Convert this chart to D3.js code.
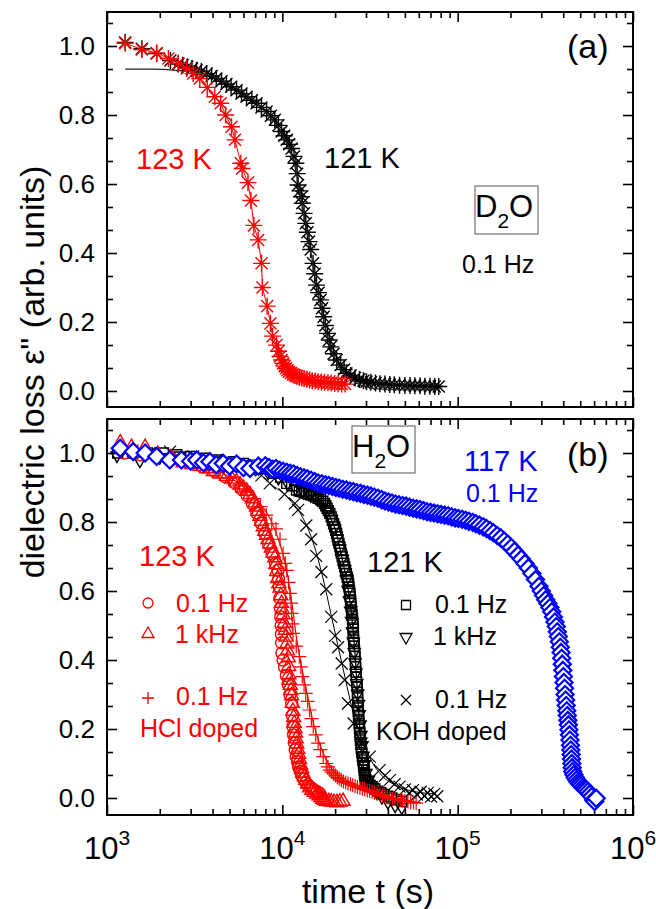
<!DOCTYPE html>
<html>
<head>
<meta charset="utf-8">
<script src="https://cdn.jsdelivr.net/npm/d3@7"></script>
<style>
  body { margin: 0; background: #fff; }
  svg text { font-family: "Liberation Sans", Arial, Helvetica, sans-serif; }
</style>
</head>
<body>
<svg id="chart" width="656" height="909"></svg>
<script>
// ---- data (time in s, normalized loss) ----
// panel (a): D2O, 0.1 Hz
const redA = [[1270,1.008],[1580,0.99],[1920,0.98],[2240,0.964],[2550,0.95],[2850,0.935],[3100,0.92],[3380,0.906],[3730,0.88],[4120,0.853],[4450,0.834],[4750,0.80],[5130,0.766],[5370,0.728],[5800,0.66],[5900,0.645],[6370,0.604],[6620,0.552],[6880,0.48],[7280,0.438],[7610,0.37],[7700,0.30],[8190,0.246],[8560,0.196],[8800,0.159],[9270,0.133],[9500,0.115],[9700,0.10],[9900,0.09],[10100,0.08],[10300,0.072],[10500,0.066],[10700,0.06],[10900,0.056],[11200,0.052],[11500,0.048],[11800,0.045],[12100,0.043],[12500,0.04],[12900,0.038],[13300,0.036],[13800,0.034],[14300,0.032],[14800,0.03],[15400,0.029],[16000,0.027],[16700,0.026],[17400,0.025],[18200,0.024],[19000,0.023],[19900,0.022],[20800,0.021],[21800,0.02],[22800,0.02]];
const blackA = [[1270,1.01],[1580,0.992],[1920,0.978],[2300,0.958],[2550,0.948],[2700,0.944],[2870,0.94],[3050,0.935],[3240,0.93],[3450,0.926],[3700,0.92],[3950,0.913],[4200,0.906],[4500,0.898],[4800,0.89],[5100,0.882],[5480,0.872],[5850,0.862],[6250,0.853],[6700,0.843],[7130,0.834],[7600,0.822],[8130,0.81],[8600,0.798],[9060,0.786],[9500,0.77],[9900,0.752],[10250,0.74],[10600,0.728],[10950,0.715],[11300,0.703],[11650,0.68],[11950,0.66],[12150,0.63],[12300,0.597],[12600,0.58],[12870,0.563],[13000,0.544],[13300,0.515],[13600,0.486],[13900,0.46],[14200,0.433],[14500,0.41],[14970,0.37],[15300,0.34],[15660,0.307],[16100,0.285],[16500,0.264],[16850,0.24],[17200,0.215],[17600,0.19],[18100,0.167],[18500,0.148],[18900,0.128],[19600,0.108],[20400,0.09],[21500,0.075],[22500,0.062],[23200,0.051],[24500,0.045],[26000,0.038],[27500,0.033],[29000,0.03],[30200,0.027],[32000,0.025],[34000,0.023],[36000,0.021],[38500,0.02],[41000,0.019],[43500,0.018],[46600,0.017],[50000,0.016],[53500,0.016],[57000,0.015],[61000,0.015],[65000,0.014],[69500,0.014],[74000,0.013],[78000,0.013]];
const fitA121 = [[1270,0.933],[1800,0.933],[2400,0.93],[3000,0.925],[3600,0.918],[4200,0.908],[4800,0.895],[5500,0.878],[6300,0.858],[7100,0.836],[8000,0.81],[9000,0.78],[10000,0.745],[11000,0.70],[11800,0.65],[12500,0.59],[13200,0.52],[14000,0.45],[14800,0.38],[15600,0.31],[16500,0.25],[17500,0.19],[18500,0.14],[19700,0.10],[21000,0.07],[23000,0.045],[26000,0.025],[30000,0.012],[38000,0.005],[50000,0.003],[78000,0.003]];

// panel (b): H2O
const circ123 = [[1250,1.0],[1550,0.995],[1900,0.99],[2350,0.982],[2900,0.972],[3500,0.96],[4100,0.947],[4700,0.932],[5300,0.915],[5800,0.897],[6300,0.877],[6750,0.853],[7150,0.826],[7550,0.797],[7950,0.767],[8350,0.737],[8750,0.707],[9150,0.68],[9440,0.66],[9520,0.635],[9600,0.612],[9680,0.58],[9750,0.55],[9800,0.525],[9850,0.5],[9880,0.475],[9900,0.45],[9950,0.42],[10100,0.4],[10300,0.38],[10550,0.355],[10800,0.33],[11050,0.3],[11300,0.274],[11400,0.24],[11500,0.207],[11600,0.183],[11700,0.16],[11850,0.14],[12000,0.12],[12200,0.105],[12400,0.09],[12650,0.077],[12900,0.065],[13250,0.055],[13600,0.045],[14000,0.038],[14400,0.032],[14850,0.027],[15300,0.022],[15800,0.018],[16300,0.014]];
const tri123 = [[1190,1.033],[1380,1.02],[1650,1.02],[1950,1.0],[2300,0.99],[2720,0.975],[3050,0.97],[3390,0.965],[3700,0.958],[4040,0.95],[4400,0.943],[4810,0.936],[5150,0.928],[5480,0.92],[5750,0.911],[5990,0.902],[6270,0.893],[6540,0.883],[6760,0.871],[6980,0.859],[7130,0.847],[7280,0.835],[7450,0.82],[7610,0.806],[7780,0.79],[7940,0.777],[8120,0.765],[8290,0.753],[8480,0.74],[8660,0.728],[8860,0.714],[9060,0.70],[9170,0.68],[9270,0.66],[9400,0.64],[9550,0.625],[9700,0.612],[9800,0.59],[9900,0.568],[10000,0.55],[10100,0.535],[10250,0.51],[10400,0.49],[10500,0.47],[10600,0.45],[10700,0.43],[10820,0.41],[10860,0.385],[10900,0.361],[11000,0.345],[11100,0.33],[11200,0.315],[11300,0.30],[11400,0.278],[11500,0.255],[11600,0.237],[11700,0.22],[11800,0.205],[11900,0.192],[12000,0.175],[12100,0.16],[12250,0.145],[12400,0.13],[12550,0.115],[12700,0.1],[12900,0.088],[13100,0.075],[13350,0.065],[13600,0.055],[13950,0.044],[14300,0.033],[14750,0.026],[15200,0.02],[15700,0.015],[16200,0.01],[16600,0.005],[17000,0.0],[17400,-0.003],[17800,-0.006],[18400,-0.007],[19000,-0.008],[19700,-0.009],[20500,-0.01],[21300,-0.008],[22200,-0.006]];
const plusHCl = [[1200,1.01],[1500,1.005],[1900,0.995],[2400,0.985],[3000,0.972],[3600,0.96],[4300,0.945],[5000,0.928],[5700,0.91],[6300,0.89],[6900,0.868],[7500,0.845],[8100,0.82],[8700,0.795],[9200,0.78],[9700,0.75],[10100,0.709],[10400,0.68],[10600,0.66],[10850,0.625],[11050,0.593],[11200,0.565],[11300,0.535],[11400,0.505],[11500,0.477],[12000,0.44],[12500,0.41],[12750,0.38],[13000,0.352],[13300,0.328],[13600,0.303],[13950,0.28],[14300,0.255],[14650,0.23],[15000,0.207],[15500,0.183],[16000,0.159],[16500,0.14],[17100,0.12],[17800,0.1],[18200,0.09],[18660,0.081],[19100,0.075],[19600,0.07],[20100,0.065],[20600,0.06],[21100,0.056],[21700,0.052],[22300,0.048],[23000,0.045],[23700,0.042],[24500,0.04],[25200,0.037],[26000,0.035],[26800,0.032],[27700,0.03],[28600,0.027],[29500,0.025],[30500,0.022],[31500,0.02],[32500,0.018],[33500,0.015],[34700,0.012],[36000,0.01],[37200,0.007],[38500,0.005],[39700,0.002],[41000,0.0],[42500,-0.002],[44000,-0.003],[45500,-0.005],[47000,-0.006],[48500,-0.008],[50000,-0.009],[52000,-0.01],[54000,-0.012],[56000,-0.013],[58000,-0.015]];
const sq121 = [[1150,1.0],[1400,1.0],[1700,1.0],[2100,1.0],[2500,0.995],[3000,0.99],[3600,0.985],[4300,0.98],[5250,0.975],[6000,0.97],[6820,0.965],[7800,0.955],[8870,0.941],[9800,0.93],[10600,0.912],[11300,0.905],[12050,0.893],[12500,0.89],[12900,0.888],[13300,0.886],[13700,0.883],[14100,0.88],[14600,0.878],[15100,0.876],[15600,0.873],[16000,0.869],[16500,0.865],[17000,0.86],[17400,0.854],[17700,0.847],[18000,0.84],[18300,0.833],[18660,0.825],[19000,0.815],[19300,0.805],[19600,0.795],[19900,0.786],[20150,0.776],[20400,0.767],[20600,0.757],[20800,0.748],[21050,0.738],[21300,0.728],[21500,0.718],[21700,0.709],[21950,0.7],[22200,0.69],[22450,0.68],[22700,0.67],[22950,0.66],[23200,0.65],[23450,0.64],[23700,0.632],[23850,0.622],[24000,0.612],[24150,0.602],[24300,0.593],[24400,0.583],[24500,0.574],[24600,0.564],[24700,0.554],[24850,0.542],[25000,0.53],[25150,0.518],[25300,0.506],[25350,0.493],[25400,0.48],[25450,0.469],[25500,0.458],[25600,0.449],[25700,0.44],[25850,0.425],[26000,0.41],[26100,0.395],[26200,0.38],[26300,0.365],[26400,0.35],[26550,0.336],[26700,0.323],[26800,0.306],[26900,0.29],[26950,0.277],[27000,0.264],[27100,0.252],[27200,0.24],[27300,0.228],[27400,0.216],[27550,0.203],[27700,0.19],[27800,0.179],[27900,0.168],[28050,0.156],[28200,0.145],[28400,0.132],[28600,0.12],[28800,0.11],[29000,0.1],[29150,0.09],[29300,0.081],[29400,0.073],[29500,0.065],[29750,0.058],[30000,0.052],[30500,0.046],[31000,0.04],[31700,0.036],[32500,0.033],[33700,0.026],[35000,0.02],[36500,0.015],[38000,0.01],[40000,0.005],[42000,0.0],[45000,-0.005],[48000,-0.01]];
const triD121 = [[1140,0.99],[1540,0.975],[2000,0.985],[2600,0.99],[3300,0.985],[4100,0.978],[5000,0.972],[6000,0.965],[7100,0.955],[8300,0.94],[9500,0.925],[10700,0.91],[11900,0.895],[13200,0.885],[14500,0.875],[15800,0.865],[17000,0.85],[18000,0.83],[19000,0.805],[19800,0.78],[20500,0.75],[21200,0.72],[21900,0.69],[22600,0.66],[23200,0.63],[23700,0.6],[24100,0.57],[24500,0.54],[24800,0.51],[25100,0.48],[25400,0.45],[25700,0.42],[26000,0.39],[26300,0.36],[26600,0.33],[26900,0.3],[27200,0.27],[27500,0.24],[27800,0.21],[28100,0.18],[28500,0.15],[28900,0.12],[29400,0.095],[30000,0.07],[31000,0.05],[32500,0.03],[34500,0.015],[37000,0.0],[40000,-0.015],[44000,-0.025],[48000,-0.03]];
const xKOH = [[1300,1.005],[1750,1.0],[2290,1.004],[3100,0.99],[4210,0.98],[5300,0.965],[6540,0.95],[7600,0.935],[8480,0.912],[10300,0.88],[11800,0.854],[12300,0.835],[13700,0.79],[14600,0.75],[15600,0.702],[16700,0.655],[17800,0.605],[19000,0.525],[20000,0.47],[20800,0.437],[21800,0.39],[22700,0.342],[23700,0.274],[25500,0.216],[28300,0.158],[31500,0.12],[35900,0.081],[38500,0.065],[41000,0.052],[43700,0.04],[46600,0.033],[50000,0.025],[53000,0.015],[55600,0.023],[58500,0.01],[61500,0.018],[64500,0.006],[67500,0.015],[70500,0.004],[73500,0.012],[76500,0.005]];
const blue117 = [[1190,1.014],[1410,1.004],[1650,1.0],[1920,0.99],[2280,0.98],[2660,0.98],[3000,0.976],[3250,0.98],[3550,0.972],[3860,0.975],[4200,0.966],[4600,0.97],[5000,0.962],[5480,0.968],[6000,0.958],[6540,0.955],[7300,0.962],[8000,0.963],[8400,0.958],[8800,0.953],[9200,0.955],[9650,0.95],[10100,0.947],[10600,0.944],[11100,0.941],[11600,0.939],[12150,0.935],[12700,0.931],[13300,0.928],[13900,0.925],[14600,0.921],[15300,0.917],[16000,0.913],[16800,0.911],[17600,0.908],[18400,0.906],[19300,0.903],[20200,0.9],[21100,0.898],[22100,0.895],[23200,0.893],[24300,0.89],[25400,0.888],[26600,0.885],[27900,0.883],[29200,0.88],[30600,0.878],[32000,0.875],[33500,0.872],[35100,0.869],[36800,0.865],[38500,0.861],[40300,0.858],[42200,0.855],[44200,0.852],[46300,0.85],[48500,0.848],[50800,0.846],[53200,0.843],[55700,0.84],[58300,0.838],[61000,0.836],[63900,0.833],[66900,0.83],[70000,0.828],[73300,0.826],[76800,0.824],[80400,0.822],[84200,0.82],[88200,0.818],[92300,0.815],[96700,0.812],[101000,0.81],[106000,0.808],[111000,0.805],[116000,0.802],[122000,0.799],[127000,0.795],[133000,0.791],[140000,0.786],[146000,0.781],[153000,0.775],[160000,0.769],[168000,0.761],[176000,0.754],[184000,0.745],[193000,0.736],[202000,0.726],[211000,0.715],[221000,0.704],[231000,0.693],[242000,0.68],[253000,0.667],[265000,0.651],[278000,0.633],[291000,0.614],[300000,0.6],[309000,0.587],[318000,0.575],[327000,0.564],[336000,0.552],[344000,0.54],[352000,0.525],[359000,0.51],[365000,0.497],[370000,0.482],[375000,0.468],[380000,0.453],[385000,0.437],[389000,0.422],[392000,0.405],[395000,0.388],[398000,0.37],[401000,0.352],[404000,0.335],[407000,0.318],[410000,0.3],[413000,0.284],[416000,0.268],[419000,0.253],[422000,0.239],[425000,0.225],[428000,0.212],[431000,0.198],[434000,0.183],[437000,0.168],[440000,0.153],[442000,0.139],[444000,0.126],[446000,0.113],[448000,0.1],[450000,0.088],[453000,0.077],[460000,0.068],[468000,0.06],[477000,0.053],[486000,0.046],[496000,0.041],[507000,0.036],[518000,0.031],[530000,0.027],[542000,0.024],[555000,0.019],[568000,0.012],[582000,0.004],[596000,-0.006],[605000,-0.01],[617000,-0.001]];
const fitB121 = [[1150,1.004],[3000,0.99],[6000,0.97],[9000,0.94],[12000,0.9],[15000,0.87],[18000,0.83],[20000,0.78],[22000,0.69],[24000,0.59],[25500,0.47],[26500,0.35],[27500,0.22],[28500,0.12],[30000,0.06],[33000,0.025],[40000,0.0],[48000,-0.012]];
const fitKOH = [[8500,0.91],[11000,0.865],[13000,0.815],[15000,0.74],[17000,0.64],[19000,0.53],[21000,0.43],[23000,0.34],[25000,0.26],[28000,0.18],[32000,0.11],[37000,0.065],[45000,0.035],[55000,0.02],[75000,0.012]];
const fitHCl = [[1150,1.0],[3000,0.975],[5000,0.93],[7000,0.87],[8500,0.81],[9500,0.75],[10500,0.67],[11300,0.57],[12000,0.47],[13000,0.37],[14000,0.29],[15000,0.22],[16500,0.15],[18500,0.095],[21000,0.06],[25000,0.035],[32000,0.015],[45000,0.0],[58000,-0.012]];

const xMajor = [1e3, 1e4, 1e5, 1e6];
const xExp = ["3", "4", "5", "6"];
const yMajor = [0, 0.2, 0.4, 0.6, 0.8, 1.0];

// ---- scales ----
const svg = d3.select("#chart");
const x = d3.scaleLog().domain([1e3, 1e6]).range([107, 633]);
const yA = d3.scaleLinear().domain([-0.0464, 1.0986]).range([407, 12]);
const yB = d3.scaleLinear().domain([-0.0493, 1.0986]).range([815, 419]);

const xMinor = [];
[1e3, 1e4, 1e5].forEach(p => { for (let k = 2; k <= 9; k++) xMinor.push(k * p); });
const yMinor = d3.range(-1, 17).map(k => +(k * 0.2 / 3).toFixed(4)).filter(v => v > -0.045 && v < 1.095 && !yMajor.some(m => Math.abs(m - v) < 1e-6));

function frame(y, top, bottom) {
  const g = svg.append("g");
  const strip = s => s.call(s => s.select(".domain").remove()).call(s => s.selectAll("line").attr("stroke-width", 1.6));
  g.append("g").attr("transform", `translate(107,0)`)
    .call(d3.axisLeft(y).tickValues(yMajor).tickSize(-10).tickPadding(12).tickFormat(d3.format(".1f")))
    .call(strip)
    .call(s => s.selectAll("text").attr("font-size", 26).attr("fill", "#000").attr("font-family", "Liberation Sans, Arial"));
  g.append("g").attr("transform", `translate(107,0)`).call(d3.axisLeft(y).tickValues(yMinor).tickSize(-6).tickFormat("")).call(strip);
  g.append("g").attr("transform", `translate(633,0)`).call(d3.axisRight(y).tickValues(yMajor).tickSize(-10).tickFormat("")).call(strip);
  g.append("g").attr("transform", `translate(633,0)`).call(d3.axisRight(y).tickValues(yMinor).tickSize(-6).tickFormat("")).call(strip);
  g.append("g").attr("transform", `translate(0,${top})`).call(d3.axisTop(x).tickValues(xMajor).tickSize(-10).tickFormat("")).call(strip);
  g.append("g").attr("transform", `translate(0,${top})`).call(d3.axisTop(x).tickValues(xMinor).tickSize(-6).tickFormat("")).call(strip);
  g.append("g").attr("transform", `translate(0,${bottom})`).call(d3.axisBottom(x).tickValues(xMajor).tickSize(-10).tickFormat("")).call(strip);
  g.append("g").attr("transform", `translate(0,${bottom})`).call(d3.axisBottom(x).tickValues(xMinor).tickSize(-6).tickFormat("")).call(strip);
  g.append("rect").attr("x", 107).attr("y", top).attr("width", 526).attr("height", bottom - top)
    .attr("fill", "none").attr("stroke", "#000").attr("stroke-width", 2);
}

// ---- marker shapes ----
const shapes = {
  star: r => { const d = r * 0.7071; return `M${-r},0H${r}M0,${-r}V${r}M${-d},${-d}L${d},${d}M${-d},${d}L${d},${-d}`; },
  plus: r => `M${-r},0H${r}M0,${-r}V${r}`,
  cross: r => `M${-r},${-r}L${r},${r}M${-r},${r}L${r},${-r}`,
  square: r => `M${-r},${-r}h${2 * r}v${2 * r}h${-2 * r}Z`,
  diamond: r => `M0,${-r}L${r},0L0,${r}L${-r},0Z`,
  triUp: r => `M0,${-r}L${r},${r * 0.75}L${-r},${r * 0.75}Z`,
  triDown: r => `M0,${r}L${r},${-r * 0.75}L${-r},${-r * 0.75}Z`,
  circle: r => `M${r},0A${r},${r} 0 1,1 ${-r},0A${r},${r} 0 1,1 ${r},0Z`
};

function markers(data, y, shape, r, color, fill, sw) {
  svg.append("g").selectAll("path").data(data).join("path")
    .attr("transform", d => `translate(${x(d[0])},${y(d[1])})`)
    .attr("d", shapes[shape](r))
    .attr("fill", fill).attr("stroke", color).attr("stroke-width", sw);
}
function curve(data, y, color, sw) {
  svg.append("path").datum(data)
    .attr("fill", "none").attr("stroke", color).attr("stroke-width", sw)
    .attr("d", d3.line().x(d => x(d[0])).y(d => y(d[1])).curve(d3.curveMonotoneX));
}

// ---- panel (a) ----
frame(yA, 12, 407);
markers(blackA, yA, "star", 8.5, "#000", "none", 1.4);
curve(fitA121, yA, "#222", 1.2);
markers(redA, yA, "star", 8.5, "#f00", "none", 1.4);
svg.append("path").datum(redA).attr("fill", "none").attr("stroke", "#f00").attr("stroke-width", 1)
  .attr("d", d3.line().x(d => x(d[0])).y(d => yA(d[1])));

// ---- panel (b) ----
frame(yB, 419, 815);
markers(sq121, yB, "square", 5, "#000", "none", 1.4);
markers(triD121, yB, "triDown", 6, "#000", "none", 1.4);
markers(xKOH, yB, "cross", 6, "#000", "none", 1.2);
curve(fitB121, yB, "#000", 1.2);
curve(fitKOH, yB, "#000", 1);
markers(circ123, yB, "circle", 6, "#f00", "none", 1.4);
markers(tri123, yB, "triUp", 7, "#f00", "none", 1.4);
markers(plusHCl, yB, "plus", 7, "#f00", "none", 1.2);
curve(fitHCl, yB, "#f00", 1.2);
markers(blue117, yB, "diamond", 8.5, "#00f", "#fff", 2.2);

// ---- x tick labels ----
const xl = svg.append("g").attr("font-size", 31);
xMajor.forEach((v, i) => {
  const t = xl.append("text").attr("x", x(v)).attr("y", 859).attr("text-anchor", "middle");
  t.append("tspan").text("10");
  t.append("tspan").attr("dy", -14).attr("font-size", 21).text(xExp[i]);
});

// ---- axis titles ----
svg.append("text").attr("x", 368).attr("y", 903).attr("text-anchor", "middle").attr("font-size", 34).text("time t (s)");
svg.append("text").attr("transform", "translate(44,372) rotate(-90)").attr("text-anchor", "middle")
  .attr("font-size", 34).text("dielectric loss \u03b5\" (arb. units)");

// ---- annotations ----
function label(txt, px, py, size, color) {
  svg.append("text").attr("x", px).attr("y", py).attr("font-size", size).attr("fill", color).text(txt);
}
label("123 K", 136, 169, 29, "#f00");
label("121 K", 324, 168, 29, "#000");
label("(a)", 567, 58, 34, "#000");
label("0.1 Hz", 462, 273, 25, "#000");
svg.append("rect").attr("x", 475).attr("y", 186).attr("width", 63).attr("height", 48).attr("fill", "none").attr("stroke", "#555").attr("stroke-width", 1);
const d2o = svg.append("text").attr("x", 475).attr("y", 217).attr("font-size", 31);
d2o.append("tspan").text("D");
d2o.append("tspan").attr("dy", 11).attr("font-size", 21).text("2");
d2o.append("tspan").attr("dy", -11).text("O");

svg.append("rect").attr("x", 352).attr("y", 426).attr("width", 63).attr("height", 47).attr("fill", "#fff").attr("stroke", "#555").attr("stroke-width", 1);
const h2o = svg.append("text").attr("x", 352).attr("y", 457).attr("font-size", 31);
h2o.append("tspan").text("H");
h2o.append("tspan").attr("dy", 11).attr("font-size", 21).text("2");
h2o.append("tspan").attr("dy", -11).text("O");

label("117 K", 464, 471, 29, "#00f");
label("0.1 Hz", 466, 502, 25, "#00f");
label("(b)", 567, 466, 34, "#000");
label("123 K", 139, 566, 29, "#f00");
label("0.1 Hz", 176, 612, 25, "#f00");
label("1 kHz", 175, 643, 25, "#f00");
label("0.1 Hz", 176, 705, 25, "#f00");
label("HCl doped", 140, 737, 25, "#f00");
label("121 K", 367, 572, 29, "#000");
label("0.1 Hz", 435, 613, 25, "#000");
label("1 kHz", 433, 645, 25, "#000");
label("0.1 Hz", 435, 708, 25, "#000");
label("KOH doped", 376, 740, 25, "#000");

// legend symbols
const leg = [["circle", 148, 603, "#f00", 5], ["triUp", 148, 633, "#f00", 6], ["plus", 148, 698, "#f00", 6],
             ["square", 406, 605, "#000", 4.5], ["triDown", 406, 638, "#000", 6], ["cross", 406, 700, "#000", 5]];
leg.forEach(l => {
  svg.append("path").attr("transform", `translate(${l[1]},${l[2]})`).attr("d", shapes[l[0]](l[4]))
    .attr("fill", "none").attr("stroke", l[3]).attr("stroke-width", 1.3);
});
</script>
</body>
</html>
